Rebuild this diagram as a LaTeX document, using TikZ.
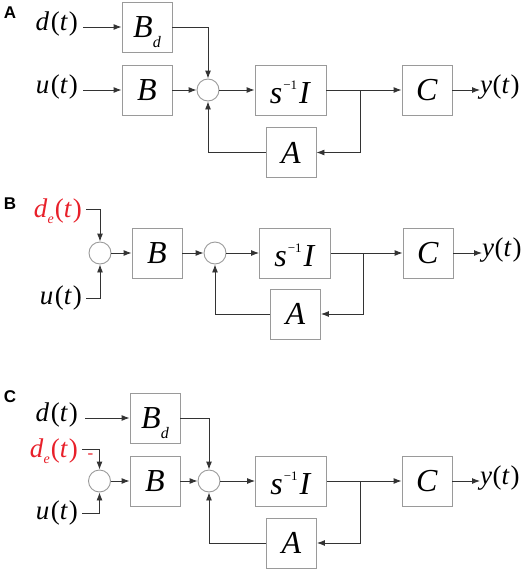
\documentclass[tikz,border=0pt]{standalone}
\usepackage{fontspec}
\setmainfont{Liberation Serif}
\newfontfamily\labfont{Liberation Sans}
\usetikzlibrary{arrows.meta,calc}
\definecolor{boxgray}{HTML}{9A9A9A}
\definecolor{wiregray}{HTML}{333333}
\definecolor{sigred}{HTML}{E8202A}
\newcommand\itx[1]{\textit{#1}}
\newcommand\sinvI{\rule{0pt}{28pt}\itx{s}\kern1pt\raisebox{14pt}[0pt][0pt]{\fontsize{13}{13}\selectfont −1}\kern2pt\itx{I}}
\newcommand\Bsub{\itx{B}\raisebox{-10pt}[0pt][0pt]{\fontsize{16}{16}\selectfont\itx{d}}}
\newcommand\dsig{\itx{d}\kern1.5pt(\itx{t}\kern1pt)}
\newcommand\usig{\itx{u}\kern1.5pt(\itx{t}\kern1pt)}
\newcommand\ysig{\itx{y}\kern0.5pt(\itx{t}\kern1pt)}
\newcommand\desig{\itx{d}\raisebox{-6pt}[0pt][0pt]{\fontsize{14}{14}\selectfont\itx{e}}\kern1pt(\itx{t}\kern1pt)}
\begin{document}
\begin{tikzpicture}[x=1pt,y=-1pt,
 blk/.style={draw=boxgray,line width=0.9pt,minimum width=50pt,minimum height=50pt,inner sep=0pt,font=\fontsize{32}{32}\selectfont},
 wideblk/.style={blk,minimum width=71pt},
 sumnode/.style={circle,draw=boxgray,line width=0.9pt,minimum size=22pt,inner sep=0pt},
 sig/.style={inner sep=0pt,font=\fontsize{27}{27}\selectfont},
 redsig/.style={sig,text=sigred},
 panel/.style={inner sep=0pt,font=\labfont\bfseries\fontsize{17}{17}\selectfont},
 wire/.style={draw=wiregray,line width=0.9pt},
 arr/.style={wire,-{Latex[length=8pt,width=6pt]}},
]
\useasboundingbox (0,0) rectangle (526,570);

% ---------- Panel A ----------
\node[panel] (labA) at (10,13) {A};
\node[sig,anchor=east] (dA) at (78,24) {\dsig};
\node[sig,anchor=east] (uA) at (78,87) {\usig};
\node[blk] (BdA) at (147,27) {\Bsub};
\node[blk] (BA) at (147,90) {\itx{B}};
\node[sumnode] (sA) at (208,90) {};
\node[wideblk] (IA) at (290.5,90) {\sinvI};
\node[blk] (CA) at (427,90) {\itx{C}};
\node[blk] (AA) at (291,152.5) {\itx{A}};
\node[sig,anchor=west] (yA) at (480,87) {\ysig};
\coordinate (brA) at (360,90);
\draw[arr] ([xshift=5pt]dA.east |- BdA.west) -- (BdA.west);
\draw[arr] ([xshift=5pt]uA.east |- BA.west) -- (BA.west);
\draw[arr] (BA.east) -- (sA.west);
\draw[arr] (BdA.east) -| (sA.north);
\draw[arr] (sA.east) -- (IA.west);
\draw[arr] (IA.east) -- (CA.west);
\draw[arr] (brA) |- (AA.east);
\draw[arr] (AA.west) -| (sA.south);
\draw[arr] (CA.east) -- (yA.west |- CA.east);

% ---------- Panel B ----------
\node[panel] (labB) at (10,204) {B};
\node[redsig,anchor=east] (deB) at (82,211) {\desig};
\node[sig,anchor=east] (uB) at (82,298) {\usig};
\node[sumnode] (s1B) at (100,253) {};
\node[blk] (BB) at (157,253) {\itx{B}};
\node[sumnode] (s2B) at (215,253) {};
\node[wideblk] (IB) at (295,253) {\sinvI};
\node[blk] (CB) at (428,253) {\itx{C}};
\node[blk] (AB) at (295.5,314) {\itx{A}};
\node[sig,anchor=west] (yB) at (482,250) {\ysig};
\coordinate (brB) at (363,253);
\draw[arr] ([xshift=4pt,yshift=2pt]deB.east) -| (s1B.north);
\draw[arr] ([xshift=4pt]uB.east) -| (s1B.south);
\draw[arr] (s1B.east) -- (BB.west);
\draw[arr] (BB.east) -- (s2B.west);
\draw[arr] (s2B.east) -- (IB.west);
\draw[arr] (IB.east) -- (CB.west);
\draw[arr] (brB) |- (AB.east);
\draw[arr] (AB.west) -| (s2B.south);
\draw[arr] (CB.east) -- (yB.west |- CB.east);

% ---------- Panel C ----------
\node[panel] (labC) at (10,397) {C};
\node[sig,anchor=east] (dC) at (78,415) {\dsig};
\node[redsig,anchor=east] (deC) at (78,451) {\desig};
\node[text=sigred,inner sep=0pt,font=\fontsize{17}{17}\selectfont] (mC) at (90.5,456) {-};
\node[sig,anchor=east] (uC) at (78,513) {\usig};
\node[blk] (BdC) at (155,418) {\Bsub};
\node[sumnode] (s1C) at (99.5,481) {};
\node[blk] (BC) at (155,481) {\itx{B}};
\node[sumnode] (s2C) at (209,481) {};
\node[wideblk] (IC) at (291,481) {\sinvI};
\node[blk] (CC) at (427,481) {\itx{C}};
\node[blk] (AC) at (291.5,543) {\itx{A}};
\node[sig,anchor=west] (yC) at (480,478) {\ysig};
\coordinate (brC) at (360,481);
\draw[arr] ([xshift=7pt]dC.east |- BdC.west) -- (BdC.west);
\draw[arr] ([xshift=4pt,yshift=2pt]deC.east) -| (s1C.north);
\draw[arr] ([xshift=4pt]uC.east) -| (s1C.south);
\draw[arr] (s1C.east) -- (BC.west);
\draw[arr] (BC.east) -- (s2C.west);
\draw[arr] (BdC.east) -| (s2C.north);
\draw[arr] (s2C.east) -- (IC.west);
\draw[arr] (IC.east) -- (CC.west);
\draw[arr] (brC) |- (AC.east);
\draw[arr] (AC.west) -| (s2C.south);
\draw[arr] (CC.east) -- (yC.west |- CC.east);
\end{tikzpicture}
\end{document}
